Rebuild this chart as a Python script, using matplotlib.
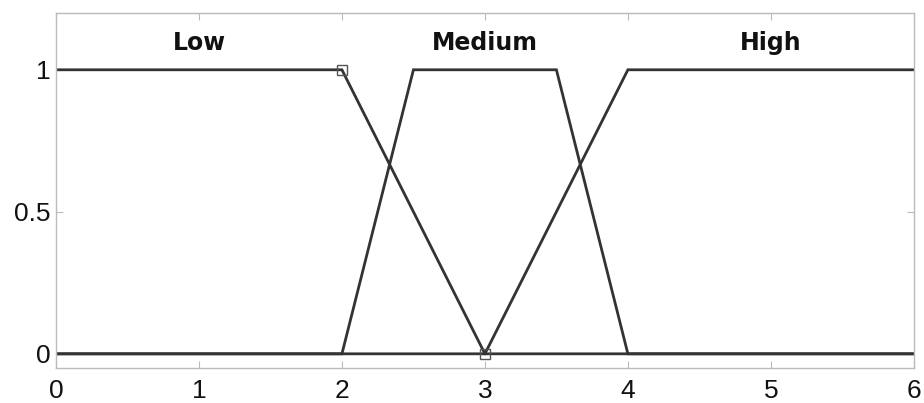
import matplotlib
matplotlib.use("Agg")
import matplotlib.pyplot as plt

low_x = [0, 2, 3, 6]
low_y = [1, 1, 0, 0]
med_x = [0, 2, 2.5, 3.5, 4, 6]
med_y = [0, 0, 1, 1, 0, 0]
high_x = [0, 3, 4, 6]
high_y = [0, 0, 1, 1]
marker_x = [2, 3]
marker_y = [1, 0]
labels = ["Low", "Medium", "High"]
label_x = [1, 3, 5]
label_y = 1.095
xticks = [0, 1, 2, 3, 4, 5, 6]
yticks = [0, 0.5, 1]
ytick_labels = ["0", "0.5", "1"]

plt.rcParams['font.family'] = ['Liberation Sans', 'DejaVu Sans']
fig = plt.figure(figsize=(9.24, 4.03), dpi=100)
ax = fig.add_axes([0.0606, 0.0868, 0.9284, 0.881])
lc = '#333333'
for xs, ys in [(low_x, low_y), (med_x, med_y), (high_x, high_y)]:
    ax.plot(xs, ys, color=lc, lw=2.0, solid_joinstyle='miter')
ax.plot(marker_x, marker_y, ls='none', marker='s', ms=7, mfc='none', mec='#555555', mew=1.0)
for t, x in zip(labels, label_x):
    ax.text(x, label_y, t, ha='center', va='center', fontsize=17, fontweight='bold',
            family='DejaVu Sans', color='#111111')
ax.set_xlim(0, 6)
ax.set_ylim(-0.05, 1.2)
ax.set_xticks(xticks)
ax.set_xticklabels([str(v) for v in xticks])
ax.set_yticks(yticks)
ax.set_yticklabels(ytick_labels)
for s in ax.spines.values():
    s.set_color('#bbbbbb')
    s.set_linewidth(1.0)
ax.tick_params(direction='in', length=5, color='#bbbbbb', labelsize=19, top=True, right=True,
               labelcolor='#111111')
ax.tick_params(axis='x', pad=8)
ax.tick_params(axis='y', pad=4)
fig.savefig('out.png', dpi=100)
